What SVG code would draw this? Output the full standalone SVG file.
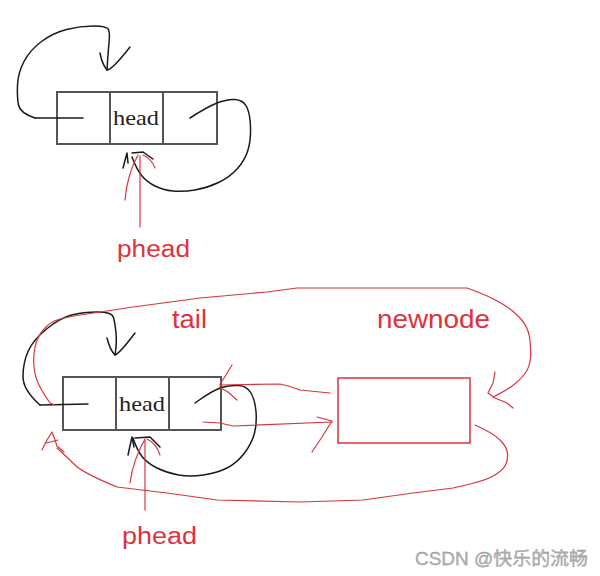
<svg xmlns="http://www.w3.org/2000/svg" width="600" height="576" viewBox="0 0 600 576">
<style>
.box{fill:none;stroke:#555;stroke-width:2}
.bk{fill:none;stroke:#1a1a1a;stroke-width:1.5;stroke-linejoin:round;stroke-linecap:round}
.rd{fill:none;stroke:#d8353d;stroke-width:1.2;stroke-linejoin:round;stroke-linecap:round}
.cell{font-family:"Liberation Serif",serif;font-size:21px;fill:#222}
.lbl{font-family:"Liberation Sans","Noto Sans CJK SC",sans-serif;fill:#e0323c}
.wm{font-family:"Liberation Sans","Noto Sans CJK SC",sans-serif;font-size:18px;fill:#b4b4b4;stroke:#8a8a8a;stroke-width:0.3}
</style>
<rect width="600" height="576" fill="#fff"/>
<g id="top-list">
<rect class="box" x="57" y="92" width="160" height="52"/>
<line class="box" x1="110" y1="92" x2="110" y2="144"/>
<line class="box" x1="163" y1="92" x2="163" y2="144"/>
<text class="cell" x="113" y="125" textLength="46" lengthAdjust="spacingAndGlyphs">head</text>
</g>
<g id="bottom-list">
<rect class="box" x="63" y="377" width="158" height="53"/>
<line class="box" x1="116" y1="377" x2="116" y2="430"/>
<line class="box" x1="169" y1="377" x2="169" y2="430"/>
<text class="cell" x="119" y="411" textLength="46" lengthAdjust="spacingAndGlyphs">head</text>
</g>
<g id="newnode">
<rect x="338" y="378" width="132" height="65" fill="none" stroke="#d8353d" stroke-width="1.5"/>
</g>
<g id="connectors">
<!-- top list black -->
<path class="bk" d="M35,118 L83,118"/>
<path class="bk" d="M35,118 Q20,113 18.5,105 Q17,97 17.5,85 Q18,73 24,61.5 Q30,50 41.5,41.5 Q53,33 66.5,29.5 Q80,26 93.5,26 Q107,26 108.5,29.5 Q110,33 109,43 Q108,53 107,70"/>
<path class="bk" d="M100,53 Q102,64 107,70 Q112,70 130,47"/>
<path class="bk" d="M190,118 Q207,107 217,103 Q227,99 235,99.5 Q243,100 246.5,106.5 Q250,113 250.5,126.5 Q251,140 248,150 Q245,160 237.5,168.5 Q230,177 218.5,182.5 Q207,188 195,190 Q183,192 173,191 Q163,190 155,186 Q147,182 142,176 Q137,170 132,157"/>
<path class="bk" d="M123,168 L127,153 L128,163"/>
<path class="bk" d="M132,153 L143,152 L153,159"/>
<!-- top phead red -->
<path class="rd" d="M140,227 L140,156"/>
<path class="rd" d="M125,200 Q127,175 138,155"/>
<path class="rd" d="M155,168 Q151,158 143,155"/>
<!-- bottom list black -->
<path class="bk" d="M40,405 L88,404"/>
<path class="bk" d="M40,405 Q23,390 23,376.5 Q23,363 28,351.5 Q33,340 46.5,329 Q60,318 71.5,315 Q83,312 97.5,312 Q112,312 113.5,317.5 Q115,323 116,333 Q117,343 115,355"/>
<path class="bk" d="M107,338 Q110,350 115,355 Q120,353 135,333"/>
<path class="bk" d="M195,403 Q213,390 221.5,387.5 Q230,385 238.5,385.5 Q247,386 251,393 Q255,400 256,411.5 Q257,423 254.5,433 Q252,443 244.5,453 Q237,463 227,468 Q217,473 203.5,475 Q190,477 178.5,475 Q167,473 157,468 Q147,463 142,456.5 Q137,450 133,438"/>
<path class="bk" d="M128,455 L132,437 L134,447"/>
<path class="bk" d="M135,438 L150,437 L160,447"/>
<!-- bottom phead red -->
<path class="rd" d="M145,510 L145,440"/>
<path class="rd" d="M130,483 Q133,460 145,439"/>
<path class="rd" d="M160,455 Q156,443 147,439"/>
<!-- big top loop: tail -> newnode -->
<path class="rd" d="M55,405 L50,403 Q43,393 39,385 Q35,377 34,367 Q33,357 35,347 Q37,337 43.5,329.5 Q50,322 58.5,319.5 Q67,317 83.5,314.5 L100,312 L133,307 L200,298 L267,292 L297,288 L467,288 Q487,295 500,302.5 Q513,310 520.5,318.5 Q528,327 529.5,337 Q531,347 530.5,357 Q530,367 525,373.5 Q520,380 513.5,385 Q507,390 493,397"/>
<path class="rd" d="M495,372 L493,383 L488,393 L495,398 L507,403 L513,408"/>
<!-- big bottom loop: newnode -> head -->
<path class="rd" d="M475,425 Q493,433 500,440 Q507,447 507.5,453.5 Q508,460 505.5,465 Q503,470 495,475 Q487,480 470,484 L453,488 L413,493 L363,500 L300,502 L217,500 L167,493 L117,487 Q83,473 75,465 Q67,457 57,448"/>
<path class="rd" d="M42,450 L47,440 L52,432 L55,440 L57,446 L64,452"/>
<path class="rd" d="M46,443 L58,440"/>
<!-- newnode prev -> tail -->
<path class="rd" d="M220,385 L280,384 Q290,386 300,390 L330,393"/>
<path class="rd" d="M232,365 L226,375 L220,384"/>
<path class="rd" d="M219,387 L228,392 L237,400"/>
<!-- tail next -> newnode -->
<path class="rd" d="M203,422 L220,423 L233,426 L332,422"/>
<path class="rd" d="M317,417 L332,421 L322,437 L312,452"/>
</g>
<g id="labels">
<text class="lbl" x="117" y="257" font-size="23" textLength="73" lengthAdjust="spacingAndGlyphs">phead</text>
<text class="lbl" x="122" y="544" font-size="23" textLength="75" lengthAdjust="spacingAndGlyphs">phead</text>
<text class="lbl" x="172" y="328" font-size="25" textLength="35" lengthAdjust="spacingAndGlyphs">tail</text>
<text class="lbl" x="377" y="328" font-size="25" textLength="113" lengthAdjust="spacingAndGlyphs">newnode</text>
<text class="wm" x="415" y="565" textLength="173" lengthAdjust="spacingAndGlyphs">CSDN @快乐的流畅</text>
</g>
</svg>
